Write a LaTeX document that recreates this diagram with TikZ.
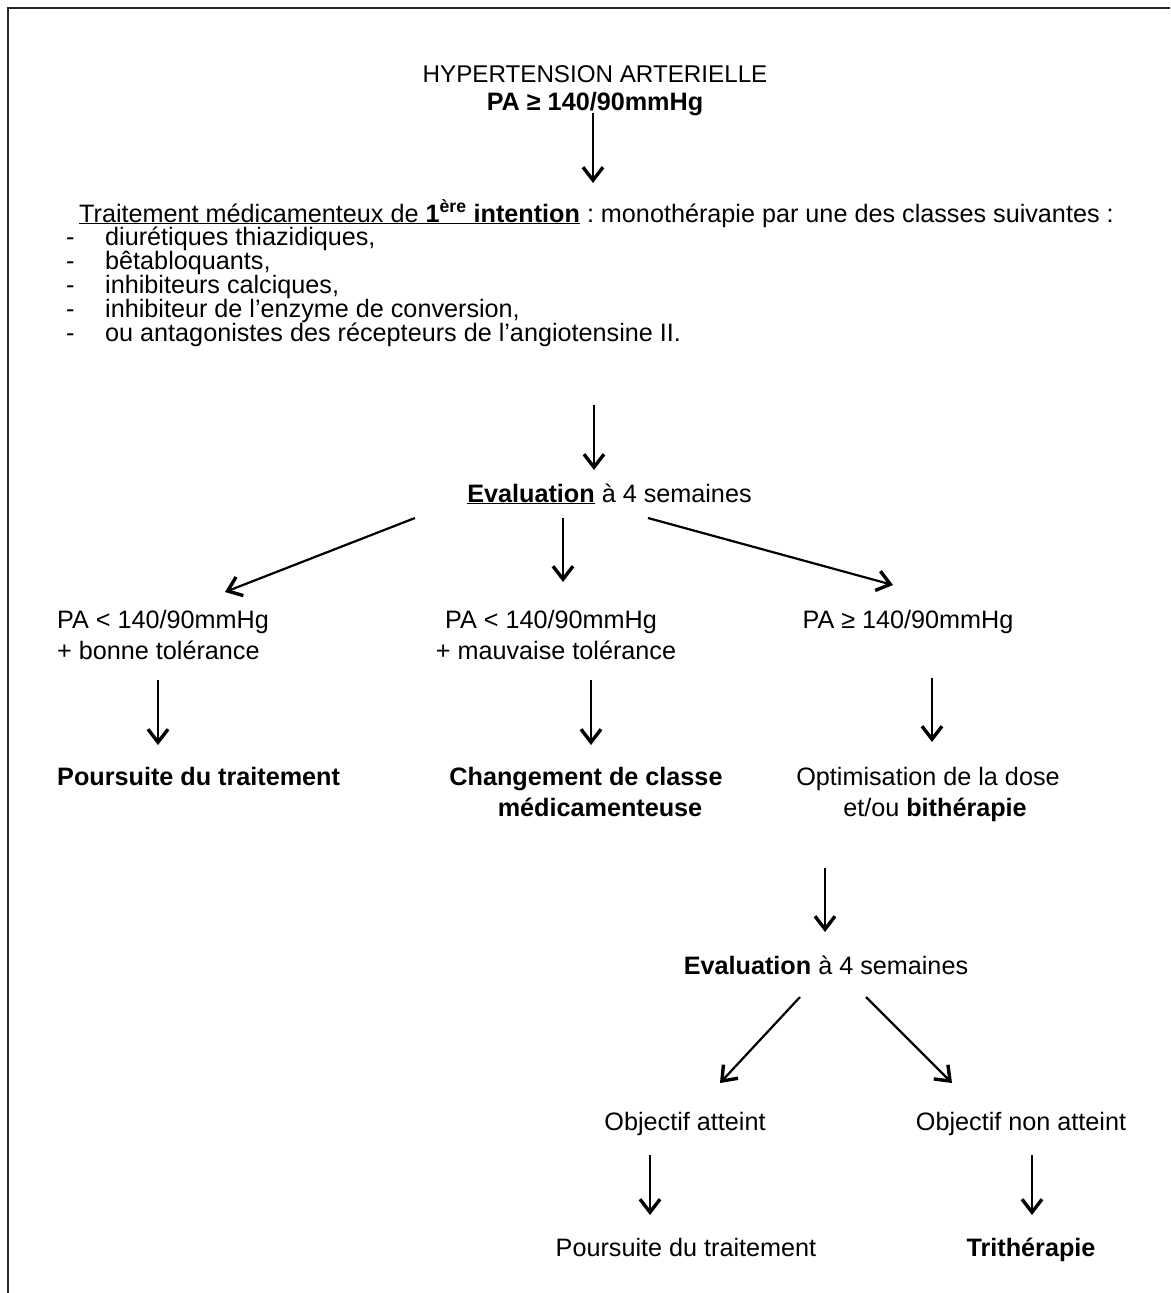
\documentclass[tikz,border=0pt]{standalone}
\usepackage{fontspec}
\setmainfont{Liberation Sans}
\usetikzlibrary{arrows.meta}
\newcommand\diagfont{\fontsize{25.2}{29}\selectfont}
\begin{document}
\begin{tikzpicture}[x=1pt,y=-1pt,
  txt/.style={inner sep=0pt, anchor=base, font=\diagfont},
  ltxt/.style={txt, anchor=base west},
  arr/.style={line width=2.2pt, -{Straight Barb[length=13pt,width=20pt,line width=3.4pt]}},
  frame/.style={line width=2pt, black!85}
]
\useasboundingbox (0,0) rectangle (1170,1293);
\fill[white] (0,0) rectangle (1170,1293);
% page frame (left and top edges)
\draw[frame] (8,1293) -- (8,8) -- (1170,8);

% heading
\node[txt, font=\fontsize{24.2}{29}\selectfont] (t1) at (595,82) {HYPERTENSION ARTERIELLE};
\node[txt] (t2) at (595,110) {\textbf{PA ≥ 140/90mmHg}};

% first-line treatment
\node[ltxt] (trait) at (79,222) {\underline{Traitement médicamenteux de \textbf{1\textsuperscript{ère} intention}}\ :\ monothérapie par une des classes suivantes :};
\foreach \i/\t [count=\k] in {0/{diurétiques thiazidiques,},
                               1/{bêtabloquants,},
                               2/{inhibiteurs calciques,},
                               3/{inhibiteur de l’enzyme de conversion,},
                               4/{ou antagonistes des récepteurs de l’angiotensine II.}}{
  \node[ltxt] (dash\k) at (66,245+24.2*\i) {-};
  \node[ltxt] (item\k) at (105,245+24.2*\i) {\t};
}

% first evaluation
\node[txt] (ev1) at (609.5,502) {\underline{\textbf{Evaluation}} à 4 semaines};

% three outcomes
\node[ltxt] (pa1a) at (57,628) {PA < 140/90mmHg};
\node[ltxt] (pa1b) at (57,659) {+ bonne tolérance};
\node[txt] (pa2a) at (551,628) {PA < 140/90mmHg};
\node[txt] (pa2b) at (556,659) {+ mauvaise tolérance};
\node[txt] (pa3) at (908,628) {PA ≥ 140/90mmHg};

\node[ltxt] (r1) at (57,785) {\textbf{Poursuite du traitement}};
\node[txt] (r2a) at (586,785) {\textbf{Changement de classe}};
\node[txt] (r2b) at (600,816) {\textbf{médicamenteuse}};
\node[txt] (r3a) at (928,785) {Optimisation de la dose};
\node[txt] (r3b) at (935,816) {et/ou \textbf{bithérapie}};

% second evaluation
\node[txt] (ev2) at (826,974) {\textbf{Evaluation} à 4 semaines};
\node[txt] (o1) at (685,1130) {Objectif atteint};
\node[txt] (o2) at (1021,1130) {Objectif non atteint};
\node[txt] (f1) at (686,1256) {Poursuite du traitement};
\node[txt] (f2) at (1031,1256) {\textbf{Trithérapie}};

% connectors
\draw[arr] ([shift={(-2,3)}]t2.base) -- ([shift={(-2,73)}]t2.base);
\draw[arr] ([shift={(-15.5,-97)}]ev1.base) -- ([shift={(-15.5,-32)}]ev1.base);
\draw[arr] ([shift={(-194.5,16)}]ev1.base) -- ([shift={(-384.5,90)}]ev1.base);
\draw[arr] ([shift={(-46.5,16)}]ev1.base) -- ([shift={(-46.5,80)}]ev1.base);
\draw[arr] ([shift={(38.5,16)}]ev1.base) -- ([shift={(283.5,83)}]ev1.base);
\draw[arr] ([shift={(101,21)}]pa1b.base west) -- ([shift={(101,86)}]pa1b.base west);
\draw[arr] ([shift={(35,21)}]pa2b.base) -- ([shift={(35,86)}]pa2b.base);
\draw[arr] ([shift={(24,50)}]pa3.base) -- ([shift={(24,114)}]pa3.base);
\draw[arr] ([shift={(-110,52)}]r3b.base) -- ([shift={(-110,116)}]r3b.base);
\draw[arr] ([shift={(-26,23)}]ev2.base) -- ([shift={(-106,109)}]ev2.base);
\draw[arr] ([shift={(40,23)}]ev2.base) -- ([shift={(126,109)}]ev2.base);
\draw[arr] ([shift={(-35,25)}]o1.base) -- ([shift={(-35,85)}]o1.base);
\draw[arr] ([shift={(11,25)}]o2.base) -- ([shift={(11,85)}]o2.base);
\end{tikzpicture}
\end{document}
